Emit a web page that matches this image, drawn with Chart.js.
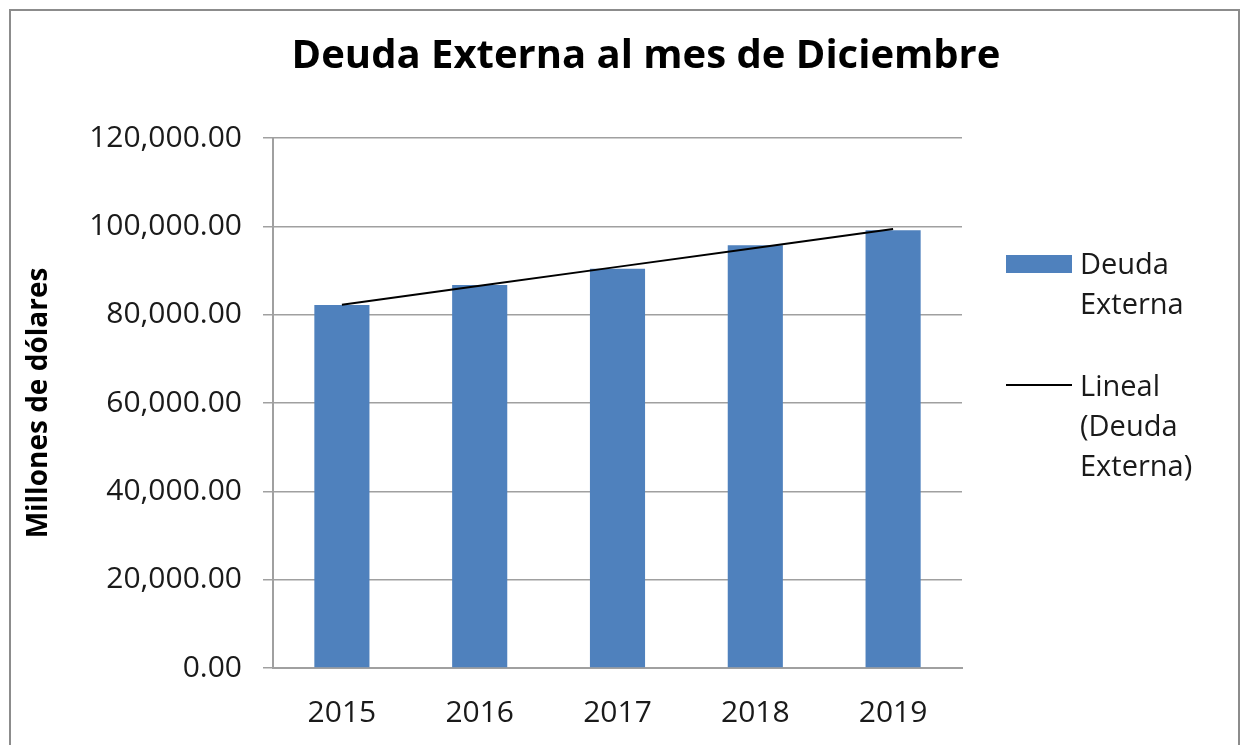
<!DOCTYPE html>
<html>
<head>
<meta charset="utf-8">
<script src="https://cdn.jsdelivr.net/npm/chart.js@4.4.1/dist/chart.umd.min.js"></script>
<style>
    html, body { margin: 0; padding: 0; background: #fff; }
    #wrap { position: relative; width: 1246px; height: 745px; overflow: hidden; }
    #frame { position: absolute; left: 9px; top: 9px; width: 1227px; height: 760px; border: 2px solid #8c8c8c; }
    #chart { position: absolute; left: 0; top: 0; }
    .leg { position: absolute; font-family: 'Open Sans', sans-serif; font-size: 29px; line-height: 40px; color: #1a1a1a; }
    .sw-bar { position: absolute; left: 1006px; top: 255px; width: 66px; height: 18px; background: #4F81BD; }
    .sw-line { position: absolute; left: 1006px; top: 384px; width: 66px; height: 2px; background: #000; }
</style>
</head>
<body>
<div id="wrap">
    <div id="frame"></div>
    <canvas id="chart" width="1246" height="745"></canvas>
    <div class="sw-bar"></div>
    <div class="leg" id="leg-bar" style="left:1080px; top:243px;"></div>
    <div class="sw-line"></div>
    <div class="leg" id="leg-line" style="left:1080px; top:365px;"></div>
</div>
<script>
// datos
const years = ['2015', '2016', '2017', '2018', '2019'];
const deuda = [82200, 86700, 90400, 95700, 99100];
const yTicks = [0, 20000, 40000, 60000, 80000, 100000, 120000];
const legendBar = ['Deuda', 'Externa'];
const legendLine = ['Lineal', '(Deuda', 'Externa)'];

// tendencia lineal (minimos cuadrados sobre la serie)
function _linearTrend(vals) {
    const n = vals.length;
    const mx = (n - 1) / 2;
    const my = vals.reduce((a, b) => a + b, 0) / n;
    let num = 0, den = 0;
    vals.forEach((v, i) => { num += (i - mx) * (v - my); den += (i - mx) * (i - mx); });
    const m = num / den;
    return vals.map((v, i) => my + m * (i - mx));
}
const tendencia = _linearTrend(deuda);

document.getElementById('leg-bar').innerHTML = legendBar.join('<br>');
document.getElementById('leg-line').innerHTML = legendLine.join('<br>');

const fmt = v => v.toLocaleString('en-US', { minimumFractionDigits: 2, maximumFractionDigits: 2 });
const gridGray = '#a0a0a0';

new Chart(document.getElementById('chart').getContext('2d'), {
    type: 'bar',
    data: {
        labels: years,
        datasets: [
            { type: 'line', label: 'Lineal (Deuda Externa)', data: tendencia, borderColor: '#000', borderWidth: 2, pointRadius: 0, fill: false, order: 0 },
            { type: 'bar', label: 'Deuda Externa', data: deuda, backgroundColor: '#4F81BD', borderWidth: 0, barPercentage: 0.4, categoryPercentage: 1, order: 1 }
        ]
    },
    options: {
        responsive: false,
        animation: false,
        layout: { padding: { left: 46, right: 0, top: 0, bottom: 15 } },
        plugins: {
            legend: { display: false },
            tooltip: { enabled: false },
            title: {
                display: true,
                text: 'Deuda Externa al mes de Diciembre',
                color: '#000',
                font: { family: 'Open Sans', size: 40, weight: 'bold', lineHeight: 1.2 },
                padding: { top: 33, bottom: 57 }
            }
        },
        scales: {
            x: {
                grid: { display: false, drawTicks: false },
                border: { display: true, color: gridGray, width: 2 },
                afterFit: s => { s.height = 62; },
                ticks: { color: '#1a1a1a', padding: 27, font: { family: 'Open Sans', size: 30 } }
            },
            y: {
                min: 0,
                max: 120000,
                afterBuildTicks: s => { s.ticks = yTicks.map(v => ({ value: v })); },
                afterFit: s => { s.width = 227; },
                grid: { color: gridGray, lineWidth: 1.5, drawTicks: true, tickLength: 10, tickColor: gridGray },
                border: { display: true, color: gridGray, width: 2 },
                ticks: { color: '#1a1a1a', padding: 21, font: { family: 'Open Sans', size: 30 }, callback: v => fmt(v) },
                title: {
                    display: true,
                    text: 'Millones de dólares',
                    color: '#000',
                    padding: { top: -24, bottom: 0 },
                    font: { family: 'Open Sans', size: 28, weight: 'bold', lineHeight: 1.2 }
                }
            },
            // eje vacio a la derecha: reserva el espacio de la leyenda
            yRight: {
                position: 'right',
                display: true,
                grid: { display: false, drawTicks: false },
                border: { display: false },
                ticks: { display: false },
                afterFit: s => { s.width = 284; }
            }
        }
    }
});
</script>
</body>
</html>
